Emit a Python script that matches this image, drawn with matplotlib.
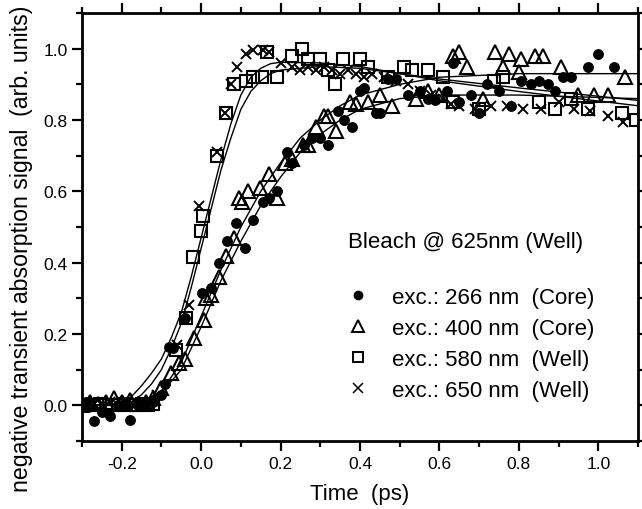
import matplotlib
matplotlib.use("Agg")
import matplotlib.pyplot as plt
from matplotlib.lines import Line2D
from matplotlib.ticker import MultipleLocator

plt.rcParams['font.family'] = ['Liberation Sans', 'DejaVu Sans']
plt.rcParams['axes.unicode_minus'] = False

# ---- data: exc. 266 nm (Core), filled circles ----
x266 = [-0.29, -0.27, -0.25, -0.23, -0.21, -0.19, -0.18, -0.16, -0.14, -0.12, -0.10, -0.09,
        -0.08, -0.07, -0.04, 0.003, 0.025, 0.045, 0.066, 0.088, 0.11, 0.13, 0.155, 0.17,
        0.19, 0.215, 0.23, 0.26, 0.28, 0.30, 0.32, 0.344, 0.36, 0.38, 0.40, 0.41, 0.44,
        0.45, 0.47, 0.49, 0.52, 0.55, 0.57, 0.59, 0.62, 0.635, 0.65, 0.68, 0.70, 0.72,
        0.75, 0.78, 0.805, 0.83, 0.85, 0.873, 0.89, 0.91, 0.93, 0.975, 1.0, 1.04]
y266 = [0.01, -0.045, -0.02, -0.03, 0.0, 0.005, -0.04, 0.0, 0.005, 0.01, 0.03, 0.06,
        0.165, 0.16, 0.245, 0.315, 0.33, 0.40, 0.46, 0.51, 0.44, 0.52, 0.57, 0.58,
        0.60, 0.71, 0.68, 0.73, 0.75, 0.75, 0.73, 0.825, 0.80, 0.78, 0.88, 0.89, 0.82,
        0.82, 0.915, 0.915, 0.87, 0.88, 0.86, 0.855, 0.88, 0.96, 0.85, 0.87, 0.82, 0.90,
        0.88, 0.84, 0.91, 0.90, 0.91, 0.90, 0.88, 0.92, 0.92, 0.95, 0.985, 0.95]

# ---- exc. 400 nm (Core), open triangles ----
x400 = [-0.30, -0.28, -0.26, -0.24, -0.22, -0.20, -0.18, -0.16, -0.14, -0.12, -0.10, -0.077,
        -0.055, -0.04, -0.018, 0.008, 0.013, 0.025, 0.046, 0.063, 0.084, 0.096, 0.104, 0.117,
        0.147, 0.172, 0.19, 0.21, 0.23, 0.256, 0.27, 0.29, 0.31, 0.32, 0.34, 0.375, 0.39,
        0.42, 0.45, 0.48, 0.54, 0.57, 0.60, 0.635, 0.65, 0.67, 0.71, 0.74, 0.76, 0.775,
        0.80, 0.805, 0.84, 0.86, 0.905, 0.95, 0.99, 1.025, 1.066]
y400 = [0.0, 0.01, 0.005, 0.01, 0.02, 0.01, 0.015, 0.005, 0.01, 0.02, 0.05, 0.09,
        0.12, 0.13, 0.19, 0.24, 0.30, 0.31, 0.36, 0.42, 0.47, 0.58, 0.57, 0.60,
        0.61, 0.65, 0.58, 0.68, 0.69, 0.73, 0.73, 0.78, 0.81, 0.81, 0.77, 0.85, 0.845,
        0.85, 0.87, 0.84, 0.86, 0.88, 0.87, 0.98, 0.99, 0.95, 0.86, 0.99, 0.95, 0.985,
        0.935, 0.97, 0.98, 0.98, 0.95, 0.87, 0.87, 0.87, 0.92]

# ---- exc. 580 nm (Well), open squares ----
x580 = [-0.30, -0.285, -0.27, -0.255, -0.24, -0.225, -0.21, -0.195, -0.18, -0.165, -0.15,
        -0.135, -0.12, -0.063, -0.038, -0.02, 0.0, 0.005, 0.041, 0.063, 0.084, 0.113,
        0.13, 0.152, 0.167, 0.19, 0.23, 0.253, 0.27, 0.30, 0.32, 0.337, 0.357, 0.40,
        0.42, 0.47, 0.51, 0.53, 0.57, 0.61, 0.635, 0.70, 0.737, 0.76, 0.85, 0.89, 0.93,
        0.975, 1.06, 1.096]
y580 = [0.0, 0.0, 0.0, 0.005, 0.0, 0.0, 0.0, 0.005, 0.0, 0.0, 0.005,
        0.0, 0.005, 0.155, 0.245, 0.417, 0.49, 0.53, 0.70, 0.82, 0.90, 0.91,
        0.92, 0.92, 0.99, 0.92, 0.98, 1.0, 0.97, 0.97, 0.94, 0.90, 0.97, 0.97,
        0.95, 0.92, 0.95, 0.94, 0.94, 0.92, 0.85, 0.83, 0.91, 0.92, 0.85, 0.83, 0.86,
        0.83, 0.82, 0.80]

# ---- exc. 650 nm (Well), crosses ----
x650 = [-0.29, -0.27, -0.25, -0.23, -0.21, -0.19, -0.17, -0.15, -0.13, -0.11, -0.06,
        -0.03, -0.005, 0.04, 0.06, 0.076, 0.09, 0.113, 0.13, 0.155, 0.17, 0.20, 0.23,
        0.25, 0.27, 0.29, 0.31, 0.33, 0.35, 0.37, 0.39, 0.41, 0.43, 0.46, 0.49, 0.52,
        0.55, 0.58, 0.61, 0.63, 0.65, 0.69, 0.73, 0.77, 0.81, 0.856, 0.90, 0.94, 0.98,
        1.025, 1.063]
y650 = [0.0, 0.005, 0.0, 0.01, 0.0, 0.005, 0.0, 0.005, 0.01, 0.03, 0.17,
        0.28, 0.56, 0.71, 0.82, 0.90, 0.95, 0.985, 0.995, 0.995, 0.99, 0.96, 0.95,
        0.94, 0.95, 0.94, 0.95, 0.94, 0.93, 0.94, 0.93, 0.92, 0.93, 0.92, 0.91, 0.90,
        0.88, 0.87, 0.86, 0.845, 0.84, 0.83, 0.84, 0.84, 0.83, 0.83, 0.85, 0.83, 0.825,
        0.81, 0.795]

# ---- fitted curves ----
fit_fast_a_x = [-0.30, -0.20, -0.175, -0.15, -0.125, -0.10, -0.075, -0.05, -0.025, 0.0, 0.025,
                0.05, 0.075, 0.10, 0.125, 0.15, 0.175, 0.20, 0.30, 0.40, 0.50, 0.60, 0.80, 1.10]
fit_fast_a_y = [0.0, 0.005, 0.025, 0.055, 0.09, 0.13, 0.19, 0.26, 0.36, 0.47, 0.58,
                0.69, 0.79, 0.87, 0.92, 0.945, 0.958, 0.962, 0.96, 0.95, 0.93, 0.91, 0.88, 0.84]
fit_fast_b_x = [-0.30, -0.20, -0.175, -0.15, -0.125, -0.10, -0.075, -0.05, -0.025, 0.0, 0.025,
                0.05, 0.075, 0.10, 0.125, 0.15, 0.175, 0.20, 0.30, 0.40, 0.50, 0.60, 0.80, 1.10]
fit_fast_b_y = [0.0, 0.002, 0.01, 0.03, 0.06, 0.10, 0.16, 0.23, 0.33, 0.44, 0.55,
                0.66, 0.75, 0.83, 0.88, 0.91, 0.93, 0.94, 0.95, 0.945, 0.93, 0.915, 0.89, 0.855]
fit_slow_a_x = [-0.30, -0.20, -0.15, -0.10, -0.05, 0.0, 0.05, 0.10, 0.15, 0.20, 0.25,
                0.30, 0.35, 0.40, 0.50, 0.60, 0.80, 1.10]
fit_slow_a_y = [0.0, 0.0, 0.01, 0.04, 0.12, 0.25, 0.38, 0.50, 0.60, 0.68, 0.75,
                0.80, 0.84, 0.87, 0.90, 0.92, 0.93, 0.93]
fit_slow_b_x = [-0.30, -0.20, -0.15, -0.10, -0.05, 0.0, 0.05, 0.10, 0.15, 0.20, 0.25,
                0.30, 0.35, 0.40, 0.50, 0.60, 0.80, 1.10]
fit_slow_b_y = [0.0, 0.0, 0.01, 0.035, 0.10, 0.22, 0.35, 0.46, 0.56, 0.64, 0.71,
                0.76, 0.80, 0.83, 0.86, 0.87, 0.87, 0.86]

legend_title = "Bleach @ 625nm (Well)"
labels = ["exc.: 266 nm  (Core)", "exc.: 400 nm  (Core)",
          "exc.: 580 nm  (Well)", "exc.: 650 nm  (Well)"]

fig = plt.figure(figsize=(6.42, 5.10), dpi=100)
ax = fig.add_axes([0.1277, 0.1333, 0.8661, 0.8392])

for fx, fy in [(fit_fast_a_x, fit_fast_a_y), (fit_fast_b_x, fit_fast_b_y),
               (fit_slow_a_x, fit_slow_a_y), (fit_slow_b_x, fit_slow_b_y)]:
    ax.plot(fx, fy, color='black', lw=1.0, zorder=2)

ax.plot(x266, y266, 'o', ms=6.8, color='black', mec='black', ls='none', zorder=3)
ax.plot(x400, y400, '^', ms=10.5, mfc='none', mec='black', mew=1.5, ls='none', zorder=3)
ax.plot(x580, y580, 's', ms=9, mfc='none', mec='black', mew=1.5, ls='none', zorder=3)
ax.plot(x650, y650, 'x', ms=7, color='black', mew=1.4, ls='none', zorder=3)

ax.set_xlim(-0.3, 1.1)
ax.set_ylim(-0.1, 1.1)
ax.xaxis.set_major_locator(MultipleLocator(0.2))
ax.xaxis.set_minor_locator(MultipleLocator(0.1))
ax.yaxis.set_major_locator(MultipleLocator(0.2))
ax.yaxis.set_minor_locator(MultipleLocator(0.1))
ax.tick_params(which='both', direction='out', top=True, right=True,
               labeltop=False, labelright=False, width=1.6, labelsize=12.5)
ax.tick_params(which='major', length=7)
ax.tick_params(which='minor', length=4.5)
for s in ax.spines.values():
    s.set_linewidth(2.0)

ax.set_xlabel("Time  (ps)", fontsize=16, labelpad=9)
ax.set_ylabel("negative transient absorption signal  (arb. units)", fontsize=16.7)
ax.yaxis.set_label_coords(-0.088, 0.451)

handles = [
    Line2D([], [], marker='o', ls='none', color='black', ms=6),
    Line2D([], [], marker='^', ls='none', mfc='none', mec='black', mew=1.4, ms=9),
    Line2D([], [], marker='s', ls='none', mfc='none', mec='black', mew=1.4, ms=7.5),
    Line2D([], [], marker='x', ls='none', color='black', mew=1.1, ms=6.5),
]
leg = ax.legend(handles, labels, title=legend_title, loc='upper left',
                bbox_to_anchor=(0.478, 0.49), frameon=False, fontsize=16,
                title_fontsize=16, alignment='left', handlelength=0.9,
                handletextpad=1.1, labelspacing=0.45, borderpad=0.0,
                borderaxespad=0.0)
leg._legend_box.sep = 25

fig.savefig("out.png", dpi=100)
